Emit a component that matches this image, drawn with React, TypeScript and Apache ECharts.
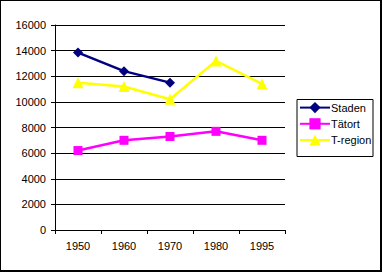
import React, { useEffect, useRef } from "react";
import * as echarts from "echarts";

const categories = ["1950", "1960", "1970", "1980", "1995"];
const staden = [13850, 12400, 11500, null, null];
const tatort = [6200, 7000, 7300, 7700, 7000];
const tregion = [11500, 11200, 10200, 13200, 11400];
const yTicks = { min: 0, max: 16000, interval: 2000 };

export default function App() {
  const ref = useRef<HTMLDivElement>(null);
  useEffect(() => {
    document.body.style.margin = "0";
    const chart = echarts.init(ref.current!, null, { renderer: "svg" });
    const font = "'Liberation Sans', Arial, sans-serif";
    chart.setOption({
      animation: false,
      backgroundColor: "#ffffff",
      textStyle: { fontFamily: font },
      grid: { left: 55, top: 25, width: 230, height: 205, containLabel: false },
      xAxis: {
        type: "category",
        data: categories,
        boundaryGap: true,
        axisLine: { lineStyle: { color: "#000", width: 1 } },
        axisTick: { show: true, length: 4, lineStyle: { color: "#000" } },
        axisLabel: { color: "#000", fontSize: 11, fontFamily: font, margin: 10 },
        splitLine: { show: false },
      },
      yAxis: {
        type: "value",
        min: yTicks.min,
        max: yTicks.max,
        interval: yTicks.interval,
        axisLine: { show: true, lineStyle: { color: "#000", width: 1 } },
        axisTick: { show: true, length: 4, lineStyle: { color: "#000" } },
        axisLabel: {
          color: "#000",
          fontSize: 11,
          fontFamily: font,
          margin: 9,
          formatter: (v: number) => String(v),
        },
        splitLine: { show: true, lineStyle: { color: "#000", width: 1 } },
      },
      legend: {
        orient: "vertical",
        left: 299,
        top: 102,
        itemWidth: 30,
        itemHeight: 14,
        itemGap: 5,
        padding: 0,
        textStyle: { color: "#000", fontSize: 11, fontFamily: font, padding: [0, 0, 0, -4] },
        data: ["Staden", "Tätort", "T-region"],
      },
      graphic: [
        {
          type: "rect",
          shape: { x: 297, y: 99.5, width: 76, height: 57 },
          style: { fill: "none", stroke: "#000", lineWidth: 1 },
          silent: true,
        },
      ],
      series: [
        {
          name: "Staden",
          type: "line",
          data: staden,
          connectNulls: false,
          color: "#000080",
          symbol: "diamond",
          symbolSize: 10,
          lineStyle: { width: 2.5, color: "#000080" },
          itemStyle: { color: "#000080" },
        },
        {
          name: "Tätort",
          type: "line",
          data: tatort,
          color: "#ff00ff",
          symbol: "rect",
          symbolSize: 9,
          lineStyle: { width: 2.5, color: "#ff00ff" },
          itemStyle: { color: "#ff00ff" },
        },
        {
          name: "T-region",
          type: "line",
          data: tregion,
          color: "#ffff00",
          symbol: "triangle",
          symbolSize: 11,
          lineStyle: { width: 2.5, color: "#ffff00" },
          itemStyle: { color: "#ffff00" },
        },
      ],
    });
    return () => chart.dispose();
  }, []);
  return (
    <div style={{ position: "absolute", left: 0, top: 0, width: 383, height: 272, background: "#fff" }}>
      <div ref={ref} style={{ position: "absolute", left: 0, top: 0, width: 383, height: 272 }} />
      <div
        style={{
          position: "absolute",
          left: 0,
          top: 0,
          width: 382,
          height: 272,
          boxSizing: "border-box",
          borderLeft: "1px solid #000",
          borderTop: "1px solid #000",
          borderRight: "2px solid #000",
          borderBottom: "2px solid #000",
          pointerEvents: "none",
        }}
      />
    </div>
  );
}
